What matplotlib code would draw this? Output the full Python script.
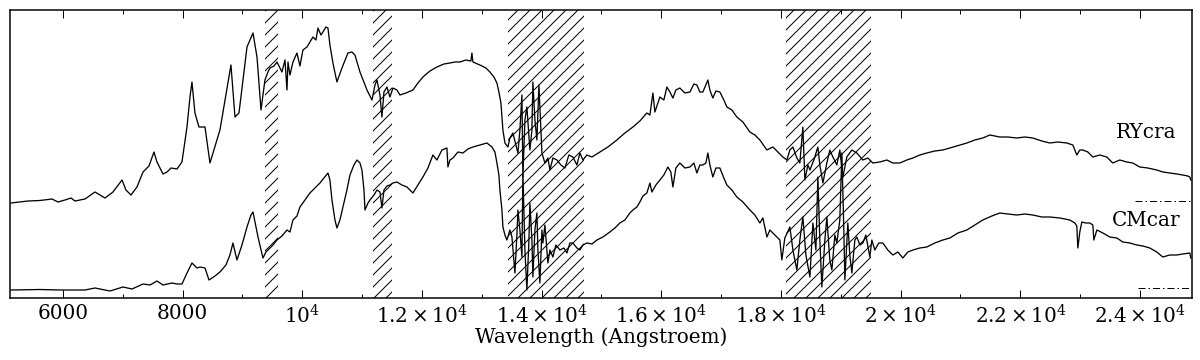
import matplotlib
matplotlib.use("Agg")
import matplotlib.pyplot as plt
from matplotlib.ticker import FixedLocator, FixedFormatter, MultipleLocator

plt.rcParams["font.family"] = "DejaVu Serif"
plt.rcParams["mathtext.fontset"] = "dejavuserif"
plt.rcParams["hatch.linewidth"] = 1.0

# ---- RY CrA spectrum (wavelength in Angstroem, flux in arbitrary units) ----
wl_ry = [5132, 5416, 5616, 5817, 5917, 6034, 6134, 6201, 6368, 6535, 6703, 6836,
         6987, 7053, 7137, 7237, 7338, 7438, 7521, 7571, 7672, 7739, 7805, 7906,
         7989, 8073, 8123, 8156, 8206, 8273, 8374, 8457, 8624, 8808, 8875, 8942,
         9076, 9176, 9243, 9310, 9376, 9426, 9460, 9527, 9577, 9660, 9711, 9744,
         9761, 9794, 9844, 9911, 9961, 10011, 10078, 10128, 10178, 10228, 10262,
         10312, 10345, 10395, 10429, 10462, 10512, 10579, 10663, 10763, 10830,
         10880, 10964, 11081, 11165, 11215, 11248, 11298, 11331, 11365, 11415,
         11465, 11515, 11582, 11632, 11732, 11849, 11933, 12016, 12133, 12250,
         12367, 12468, 12551, 12635, 12735, 12819, 12835, 12852, 12969, 13069,
         13136, 13203, 13253, 13286, 13320, 13353, 13387, 13437, 13470, 13520,
         13570, 13604, 13637, 13671, 13687, 13721, 13754, 13804, 13838, 13854,
         13888, 13921, 13955, 13988, 14005, 14055, 14105, 14139, 14189, 14256,
         14323, 14389, 14456, 14523, 14590, 14640, 14690, 14757, 14841, 14975,
         15108, 15258, 15392, 15526, 15642, 15759, 15810, 15860, 15893, 15977,
         16043, 16094, 16144, 16194, 16244, 16311, 16394, 16478, 16545, 16595,
         16645, 16695, 16745, 16779, 16812, 16862, 16913, 16979, 17046, 17096,
         17180, 17263, 17364, 17481, 17564, 17648, 17765, 17865, 17949, 18032,
         18099, 18149, 18200, 18266, 18316, 18366, 18400, 18450, 18484, 18550,
         18617, 18650, 18701, 18767, 18817, 18868, 18934, 18984, 19035, 19101,
         19185, 19268, 19369, 19452, 19536, 19653, 19770, 19870, 19987, 20104,
         20205, 20321, 20438, 20572, 20706, 20823, 20990, 21107, 21241, 21374,
         21491, 21658, 21792, 21942, 22076, 22209, 22360, 22494, 22627, 22778,
         22878, 22945, 22995, 23045, 23129, 23213, 23329, 23446, 23546, 23663,
         23780, 23881, 23997, 24131, 24281, 24382, 24499, 24616, 24716, 24800,
         24833, 24850]
flux_ry = [95, 97, 97.5, 99, 96, 98, 100, 97, 99, 106, 100, 106,
           118, 108, 103, 111, 126, 132, 146, 136, 124, 126, 130, 129,
           136, 171, 201, 216, 185, 171, 171, 135, 168, 233, 181, 185,
           251, 265, 241, 188, 218, 226, 230, 232, 236, 226, 238, 208,
           236, 223, 236, 245, 232, 248, 251, 256, 261, 258, 270,
           263, 266, 271, 270, 253, 235, 216, 230, 245, 246,
           243, 226, 208, 198, 213, 218, 203, 181, 206, 211,
           201, 210, 208, 203, 205, 208, 215, 221, 227, 231,
           234, 235, 236, 236, 238, 237, 245, 236, 233, 230,
           226, 221, 215, 206, 195, 168, 155, 151, 160, 165,
           153, 145, 168, 203, 121, 178, 191, 148, 168, 216,
           178, 158, 213, 168, 145, 135, 140, 128, 140, 138,
           133, 130, 143, 141, 133, 145, 138, 143, 141, 146,
           151, 158, 165, 171, 177, 185, 183, 205, 186, 201,
           198, 211, 206, 200, 208, 210, 205, 206, 214, 213,
           206, 206, 213, 218, 208, 200, 207, 206, 198, 191,
           188, 181, 176, 166, 163, 158, 148, 151, 146, 141,
           138, 148, 151, 140, 135, 171, 118, 133, 128, 138,
           151, 133, 115, 135, 148, 141, 133, 148, 121, 141,
           148, 145, 138, 140, 135, 136, 138, 135, 135, 138,
           140, 143, 145, 147, 148, 150, 153, 155, 158, 160,
           163, 161, 161, 160, 161, 160, 157, 155, 156, 155,
           153, 143, 148, 148, 146, 141, 143, 141, 135, 138,
           136, 135, 131, 130, 128, 126, 125, 124, 123, 122,
           121, 118]

# ---- CM Car spectrum ----
wl_cm = [5132, 5616, 5951, 6368, 6535, 6786, 7003, 7154, 7338, 7455, 7571, 7672,
         7822, 7906, 7989, 8073, 8156, 8240, 8290, 8374, 8441, 8541, 8624, 8724,
         8791, 8841, 8908, 8992, 9076, 9142, 9176, 9260, 9343, 9393, 9460, 9510,
         9577, 9660, 9744, 9794, 9844, 9911, 9961, 10045, 10128, 10212, 10295,
         10362, 10429, 10462, 10496, 10546, 10579, 10629, 10679, 10746, 10797,
         10863, 10913, 10964, 10997, 11031, 11048, 11098, 11131, 11198, 11248,
         11298, 11331, 11365, 11415, 11465, 11515, 11582, 11665, 11749, 11799,
         11849, 11933, 12016, 12100, 12183, 12250, 12334, 12417, 12434, 12468,
         12518, 12601, 12685, 12768, 12852, 12969, 13086, 13170, 13220, 13253,
         13286, 13303, 13337, 13353, 13387, 13420, 13470, 13504, 13554, 13587,
         13604, 13637, 13671, 13687, 13721, 13754, 13788, 13804, 13838, 13854,
         13888, 13921, 13938, 13971, 14005, 14021, 14055, 14105, 14139, 14189,
         14239, 14306, 14373, 14423, 14473, 14523, 14590, 14640, 14690, 14757,
         14841, 14924, 15024, 15141, 15225, 15308, 15392, 15475, 15526, 15592,
         15642, 15693, 15759, 15810, 15843, 15910, 15977, 16043, 16110, 16160,
         16194, 16244, 16311, 16394, 16478, 16545, 16595, 16645, 16695, 16745,
         16779, 16812, 16862, 16913, 16979, 17046, 17096, 17180, 17263, 17364,
         17481, 17564, 17648, 17698, 17765, 17815, 17899, 17982, 18015, 18065,
         18149, 18200, 18266, 18316, 18366, 18417, 18484, 18534, 18584, 18617,
         18650, 18684, 18734, 18767, 18817, 18851, 18901, 18934, 18984, 19018,
         19051, 19068, 19118, 19151, 19185, 19235, 19268, 19319, 19369, 19419,
         19486, 19519, 19569, 19636, 19703, 19786, 19870, 19954, 20037, 20121,
         20205, 20321, 20438, 20572, 20706, 20823, 20957, 21107, 21241, 21374,
         21525, 21658, 21792, 21942, 22076, 22209, 22360, 22494, 22661, 22828,
         22912, 22945, 22962, 22995, 23029, 23096, 23163, 23213, 23229, 23280,
         23380, 23497, 23613, 23714, 23831, 23948, 24048, 24165, 24281, 24382,
         24499, 24616, 24716, 24833, 24850]
flux_cm = [8, 8.5, 8, 8, 10, 7, 11, 9, 14, 13, 17, 13,
           15, 14, 14, 25, 35, 30, 31, 30, 18, 22, 26, 33,
           43, 55, 38, 53, 71, 83, 86, 61, 40, 46, 50, 53,
           58, 62, 68, 66, 78, 82, 91, 98, 105, 110, 115,
           120, 125, 118, 98, 78, 70, 78, 91, 108, 123,
           133, 138, 135, 128, 108, 88, 95, 98, 103, 108,
           106, 90, 108, 112, 113, 115, 116, 113, 111, 108,
           105, 113, 121, 130, 143, 138, 148, 150, 131, 138,
           140, 146, 145, 149, 151, 153, 155, 151, 146, 135,
           123, 108, 88, 71, 63, 58, 68, 61, 25, 63,
           88, 68, 41, 125, 48, 8, 58, 95, 58, 21,
           68, 85, 48, 15, 68, 55, 73, 35, 48, 41,
           53, 48, 50, 45, 55, 55, 50, 48, 53, 55,
           54, 58, 61, 66, 70, 75, 78, 85, 88, 91,
           96, 102, 105, 115, 106, 113, 118, 123, 131, 126,
           111, 130, 135, 130, 131, 135, 125, 133, 133, 135,
           145, 133, 121, 130, 130, 120, 113, 108, 101, 96,
           88, 83, 75, 80, 61, 68, 63, 58, 38, 60,
           71, 48, 28, 58, 81, 43, 21, 75, 48, 121,
           58, 11, 58, 81, 38, 28, 63, 55, 78, 145,
           68, 18, 75, 43, 25, 58, 61, 53, 55, 63,
           41, 58, 48, 55, 55, 48, 43, 46, 40, 46,
           48, 50, 51, 55, 58, 60, 65, 68, 73, 78,
           82, 85, 84, 83, 84, 83, 81, 81, 80, 78,
           75, 72, 50, 66, 76, 75, 75, 73, 58, 68,
           65, 61, 60, 56, 55, 53, 52, 50, 46, 41,
           43, 43, 44, 45, 40]

star_names = ["RYcra", "CMcar"]
# zero levels of the two spectra (dash-dot marks at the right)
zero_levels = [97, 10]
zero_start = [23915, 23960]

# wavelength ranges of strong telluric absorption (hatched)
band_lo = [9375, 11180, 13437, 18082]
band_hi = [9590, 11500, 14707, 19503]

tick_pos = [6000, 8000, 10000, 12000, 14000, 16000, 18000, 20000, 22000, 24000]
tick_labels = ["6000", "8000", r"$10^4$", r"$1.2\times10^4$", r"$1.4\times10^4$",
               r"$1.6\times10^4$", r"$1.8\times10^4$", r"$2\times10^4$",
               r"$2.2\times10^4$", r"$2.4\times10^4$"]

fig = plt.figure(figsize=(1200 / 72, 360 / 72), dpi=72)
ax = fig.add_axes([10 / 1200, 62 / 360, 1182 / 1200, 288 / 360])

for lo, hi in zip(band_lo, band_hi):
    ax.axvspan(lo, hi, facecolor="none", edgecolor="black", hatch="//", linewidth=0)

ax.plot(wl_ry, flux_ry, color="black", lw=1.3)
ax.plot(wl_cm, flux_cm, color="black", lw=1.3)
ax.hlines(zero_levels, zero_start, 24870, colors="black", lw=1.0,
          linestyles=[(0, (7, 3, 1.5, 3))])

ax.text(24107, 165, star_names[0], fontsize=20, ha="center", va="center")
ax.text(24107, 78, star_names[1], fontsize=20, ha="center", va="center")

ax.set_xlim(5115, 24870)
ax.set_ylim(0, 288)
ax.xaxis.set_major_locator(FixedLocator(tick_pos))
ax.xaxis.set_major_formatter(FixedFormatter(tick_labels))
ax.xaxis.set_minor_locator(MultipleLocator(1000))
ax.tick_params(axis="x", which="both", direction="in", top=True, labelsize=20, pad=6)
ax.tick_params(axis="x", which="major", length=8, width=1.0)
ax.tick_params(axis="x", which="minor", length=4, width=1.0)
ax.set_yticks([])
for s in ax.spines.values():
    s.set_linewidth(1.5)

ax.set_xlabel("Wavelength (Angstroem)", fontsize=20, labelpad=0)

fig.savefig("out.png", dpi=72)
